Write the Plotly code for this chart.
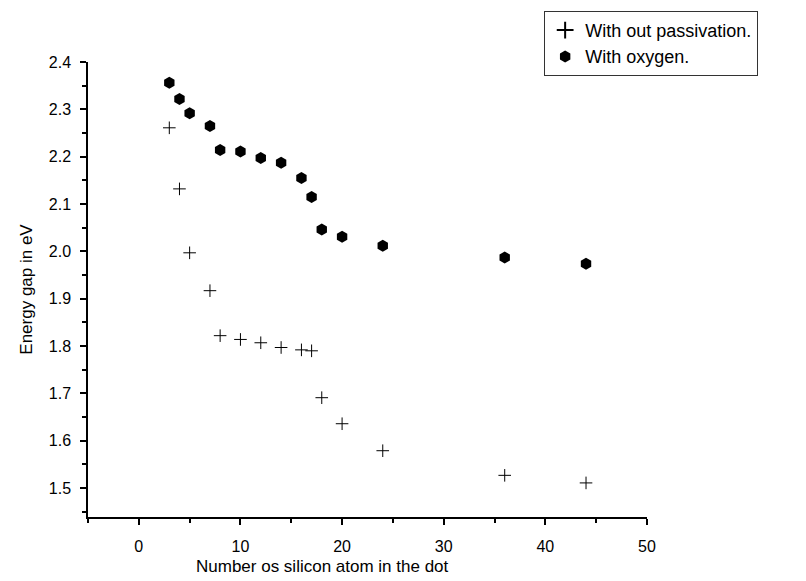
import plotly.graph_objects as go

atoms = [3, 4, 5, 7, 8, 10, 12, 14, 16, 17, 18, 20, 24, 36, 44]
gap_no_passivation = [2.261, 2.132, 1.997, 1.917, 1.822, 1.814, 1.807, 1.797, 1.792, 1.790, 1.691, 1.636, 1.579, 1.527, 1.511]
gap_oxygen = [2.356, 2.322, 2.292, 2.265, 2.214, 2.211, 2.197, 2.187, 2.155, 2.115, 2.046, 2.031, 2.012, 1.987, 1.974]
x_title = "Number os silicon atom in the dot"
y_title = "Energy gap in eV"

font = "Liberation Sans, Arial, sans-serif"

fig = go.Figure()
fig.add_trace(go.Scatter(
    x=atoms, y=gap_no_passivation, mode="markers", name="With out passivation.",
    marker=dict(symbol="cross-thin", size=9, line=dict(color="black", width=1), color="black"),
))
fig.add_trace(go.Scatter(
    x=atoms, y=gap_oxygen, mode="markers", name="With oxygen.",
    marker=dict(symbol="hexagon", size=12, color="black", line=dict(width=0)),
))

axis_common = dict(
    showgrid=False, zeroline=False, showline=True, linecolor="black", linewidth=1.5,
    ticks="outside", ticklen=6, tickwidth=1.5, tickcolor="black",
    tickfont=dict(family=font, size=16, color="black"),
    mirror=False, automargin=False,
)
fig.update_xaxes(range=[-5, 50], dtick=10, tick0=0, ticklabelstandoff=8,
                 minor=dict(ticks="outside", ticklen=4, tickwidth=1.5, dtick=5, tick0=0, tickcolor="black"),
                 **axis_common)
fig.update_yaxes(range=[1.439, 2.4], dtick=0.1, tick0=1.5, tickformat=".1f", ticklabelstandoff=6,
                 minor=dict(ticks="outside", ticklen=4, tickwidth=1.5, dtick=0.05, tick0=1.5, tickcolor="black"),
                 title=dict(text=y_title, font=dict(family=font, size=17, color="black"), standoff=12),
                 **axis_common)

fig.add_annotation(text=x_title, xref="paper", yref="paper", x=0.42, y=-0.108,
                   xanchor="center", yanchor="middle", showarrow=False,
                   font=dict(family=font, size=17, color="black"))

fig.update_layout(
    width=806, height=581,
    margin=dict(l=88, r=159, t=61, b=64),
    paper_bgcolor="white", plot_bgcolor="white",
    showlegend=True,
    legend=dict(x=0.816, y=1.11, xanchor="left", yanchor="top",
                bordercolor="#333333", borderwidth=1, bgcolor="white",
                font=dict(family=font, size=18, color="black"),
                itemsizing="constant", tracegroupgap=0),
)

fig.write_html("out.html")
